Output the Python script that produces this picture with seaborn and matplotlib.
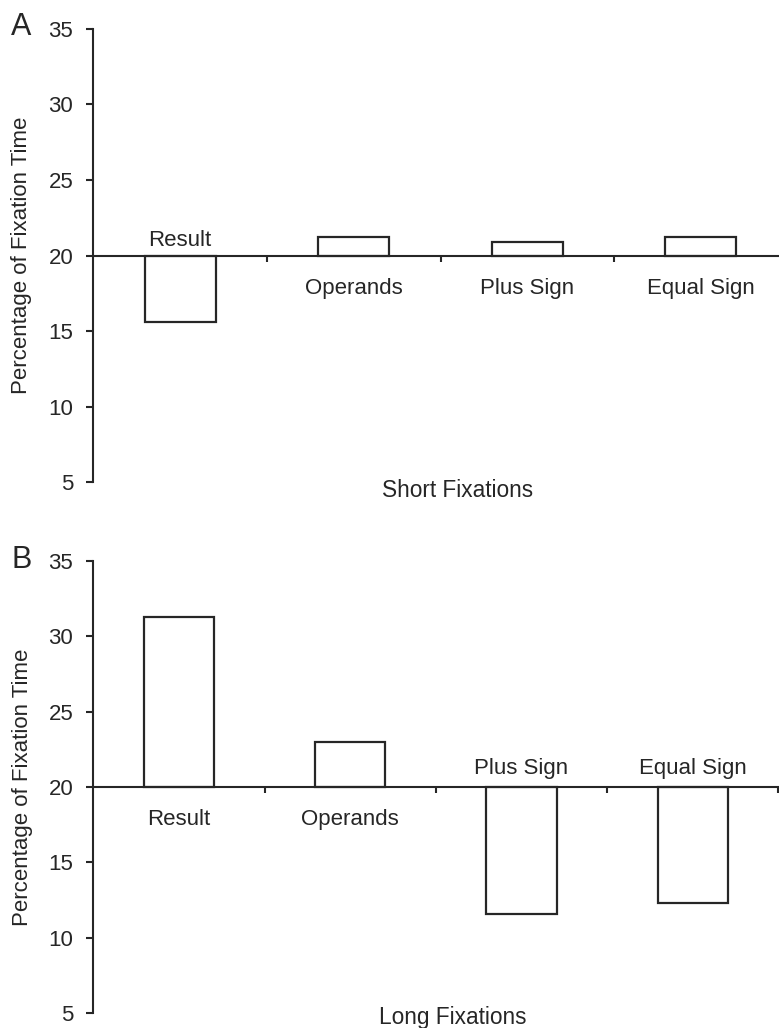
import pandas as pd
import matplotlib.pyplot as plt
import seaborn as sns

# Style first, then fonts (set_style resets font.family)
sns.set_style("ticks")
plt.rcParams['font.family'] = ['Liberation Sans', 'DejaVu Sans']

# Data
categories = ['Result', 'Operands', 'Plus Sign', 'Equal Sign']
short_pct = [15.6, 21.2, 20.9, 21.2]
long_pct = [31.3, 23.0, 11.6, 12.3]
baseline = 20
y_ticks = [5, 10, 15, 20, 25, 30, 35]

panels = [
    ('A', 'Short Fixations', short_pct),
    ('B', 'Long Fixations', long_pct),
]

ink = '#262626'

fig = plt.figure(figsize=(7.79, 10.28), dpi=100)
ax_a = fig.add_axes([0.120, 0.5311, 0.891, 0.4407])
ax_b = fig.add_axes([0.120, 0.0146, 0.879, 0.4397])

for ax, (letter, xlabel, values) in zip([ax_a, ax_b], panels):
    df = pd.DataFrame({'Target': categories,
                       'Diff': [v - baseline for v in values]})
    sns.barplot(data=df, x='Target', y='Diff', bottom=baseline, width=0.41,
                color='white', edgecolor=ink, linewidth=1.6, ax=ax)

    ax.set_xlim(-0.5, len(categories) - 0.5)
    ax.set_ylim(y_ticks[0], y_ticks[-1])
    ax.set_yticks(y_ticks)
    ax.set_xticks([i + 0.5 for i in range(len(categories))])
    ax.set_xticklabels([])

    ax.spines['top'].set_visible(False)
    ax.spines['right'].set_visible(False)
    ax.spines['bottom'].set_position(('data', baseline))
    for s in ['left', 'bottom']:
        ax.spines[s].set_linewidth(1.5)
        ax.spines[s].set_color(ink)

    ax.tick_params(axis='y', length=5, width=1.5, pad=9.5, labelsize=16,
                   colors=ink)
    ax.tick_params(axis='x', length=4, width=1.5, colors=ink)

    # category labels on the opposite side of each bar
    for i, (cat, v) in enumerate(zip(categories, values)):
        if v < baseline:
            ax.annotate(cat, (i, baseline), xytext=(0, 7 if letter == 'A' else 9),
                        textcoords='offset points', ha='center', va='baseline',
                        fontsize=16, color=ink)
        else:
            ax.annotate(cat, (i, baseline), xytext=(0, -27.5),
                        textcoords='offset points', ha='center', va='baseline',
                        fontsize=16, color=ink)

    ax.set_ylabel('Percentage of Fixation Time', fontsize=16, color=ink)
    ax.yaxis.set_label_coords(-0.089, 0.5)
    ax.set_xlabel(xlabel, fontsize=16.3, color=ink)
    # keep the lower label inside the figure
    ax.xaxis.set_label_coords(0.525, 0.007 if letter == 'A' else 0.016)

fig.text(11 / 779, 1 - 35 / 1028, 'A', fontsize=22, color=ink,
         ha='left', va='baseline')
fig.text(11 / 779, 1 - 568 / 1028, 'B', fontsize=22, color=ink,
         ha='left', va='baseline')

fig.savefig('out.png', dpi=100, facecolor='white')
